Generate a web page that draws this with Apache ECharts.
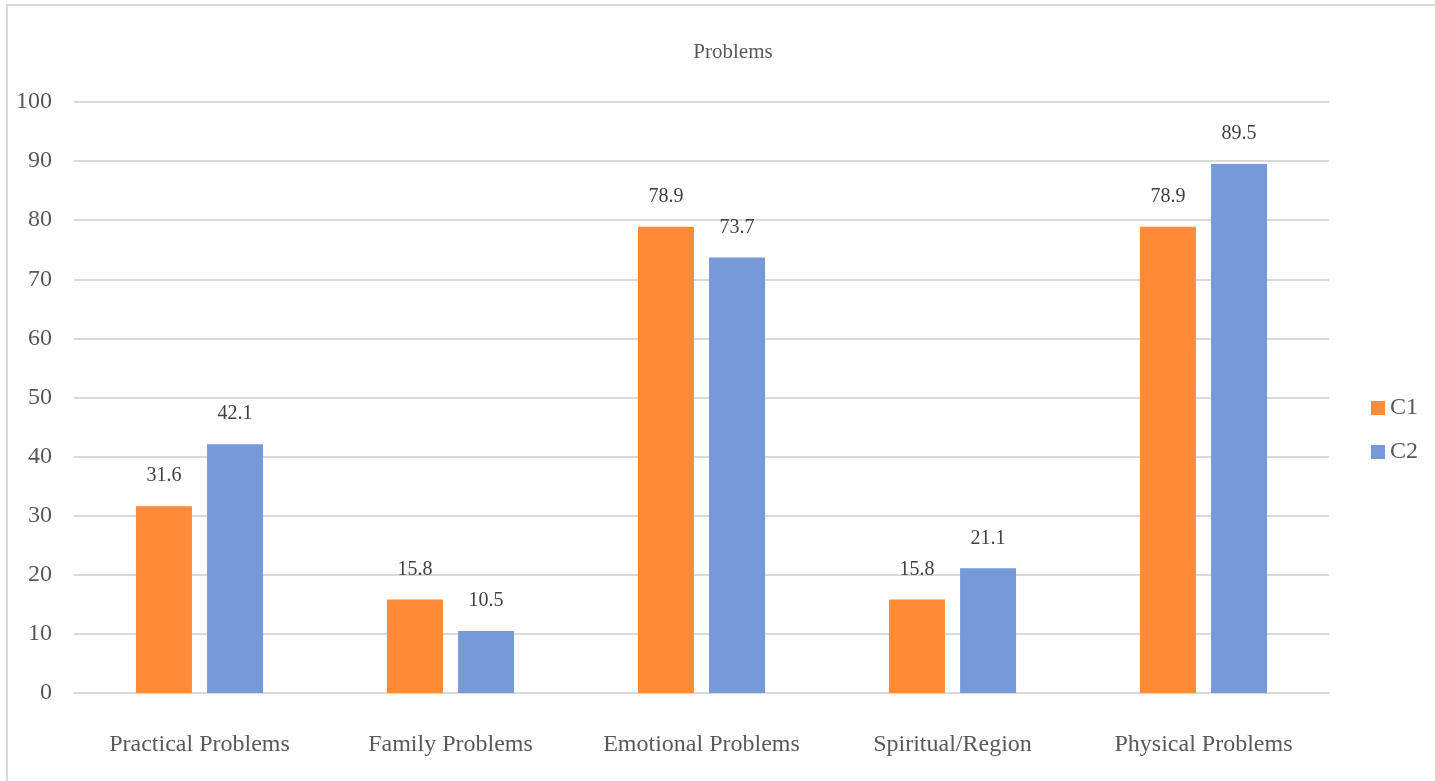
<!DOCTYPE html>
<html>
<head>
<meta charset="utf-8">
<script src="https://cdn.jsdelivr.net/npm/echarts@6/dist/echarts.min.js"></script>
<style>
html,body{margin:0;padding:0;background:#fff;}
#frame{position:absolute;left:6px;top:4px;width:1440px;height:790px;border-top:2px solid #d9d9d9;border-left:2px solid #d9d9d9;box-sizing:border-box;}
#c{position:absolute;left:0;top:0;width:1435px;height:781px;}
</style>
</head>
<body>
<div id="frame"></div>
<div id="c"></div>
<script>
var categories = ['Practical Problems', 'Family Problems', 'Emotional Problems', 'Spiritual/Region', 'Physical Problems'];
var c1Values = [31.6, 15.8, 78.9, 15.8, 78.9];
var c2Values = [42.1, 10.5, 73.7, 21.1, 89.5];
var seriesNames = ['C1', 'C2'];
var titleText = 'Problems';

var font = '"Liberation Serif", "Times New Roman", serif';
var chart = echarts.init(document.getElementById('c'));
var labelCfg = {show: true, position: 'top', distance: 20, color: '#404040', fontSize: 20, fontFamily: font};
chart.setOption({
  animation: false,
  title: {text: titleText, left: 728, top: 37, textAlign: 'center',
    textStyle: {fontFamily: font, fontSize: 21, fontWeight: 'normal', color: '#595959'}},
  legend: {orient: 'vertical', left: 1366, top: 391, itemWidth: 14, itemHeight: 14, itemGap: 20,
    icon: 'rect', textStyle: {fontFamily: font, fontSize: 24, color: '#595959'}, data: seriesNames},
  grid: {left: 74, right: 106, top: 102, bottom: 88, containLabel: false},
  xAxis: {type: 'category', data: categories,
    axisLine: {show: true, lineStyle: {color: '#d9d9d9', width: 2}},
    axisTick: {show: false},
    axisLabel: {interval: 0, fontFamily: font, fontSize: 24, color: '#595959', margin: 40}},
  yAxis: {type: 'value', min: 0, max: 100, interval: 10,
    axisLine: {show: false}, axisTick: {show: false},
    splitLine: {lineStyle: {color: '#d9d9d9', width: 2}},
    axisLabel: {fontFamily: font, fontSize: 24, color: '#595959', margin: 22}},
  series: [
    {name: seriesNames[0], type: 'bar', data: c1Values, barWidth: 56, barGap: '27%',
      itemStyle: {color: '#FF8A38'}, label: labelCfg},
    {name: seriesNames[1], type: 'bar', data: c2Values, barWidth: 56, barGap: '27%',
      itemStyle: {color: '#7699D8'}, label: labelCfg}
  ]
});
</script>
</body>
</html>
